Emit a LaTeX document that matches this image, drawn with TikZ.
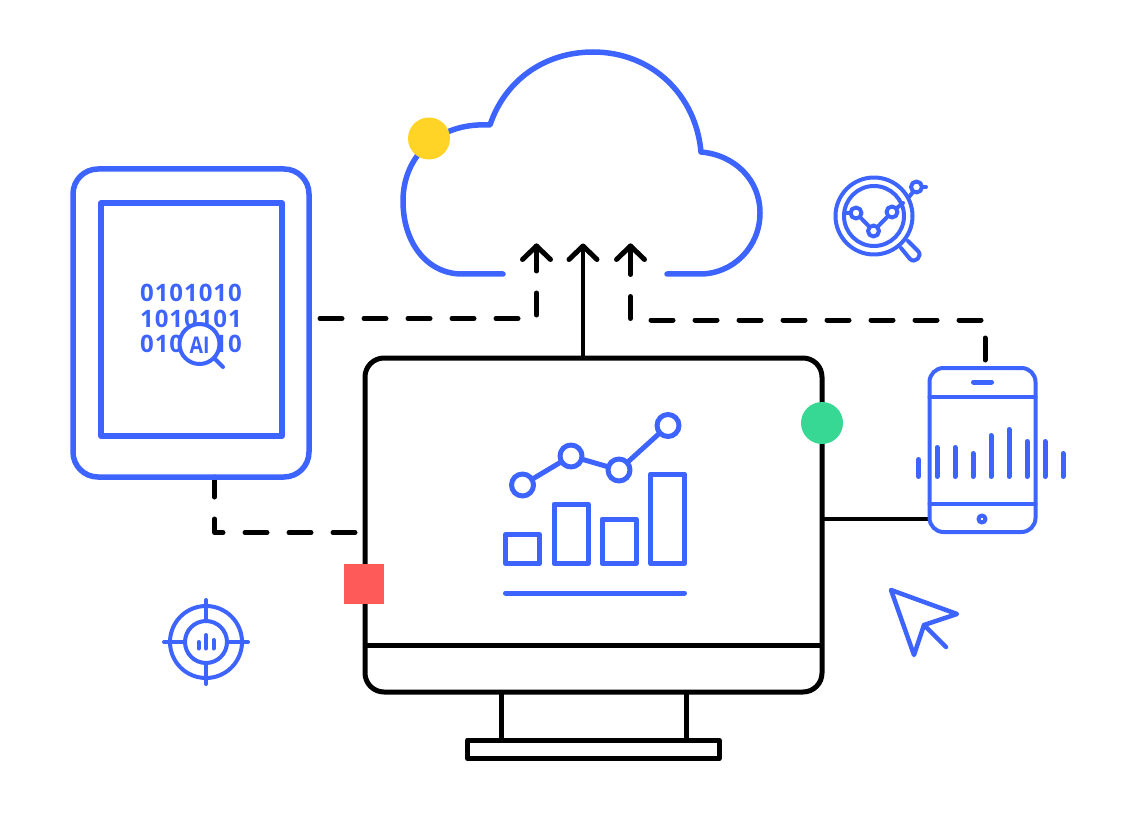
\documentclass[tikz,border=0pt]{standalone}
\usepackage{fontspec}
\setmainfont{Open Sans}
\newfontfamily\bitfont[LetterSpace=4]{Open Sans}
\newfontfamily\aifont[FakeStretch=0.85]{Open Sans}
\usetikzlibrary{calc}
\definecolor{iconblue}{HTML}{3D64FF}
\definecolor{dotyellow}{HTML}{FFD426}
\definecolor{dotgreen}{HTML}{36D894}
\definecolor{dotred}{HTML}{FF5A5A}
\tikzset{
  blue heavy/.style={draw=iconblue,line width=5.5pt,line cap=round,line join=round},
  blue thick/.style={draw=iconblue,line width=5pt,line cap=round,line join=round},
  blue mid/.style={draw=iconblue,line width=4pt,line cap=round,line join=round},
  black line/.style={draw=black,line width=5pt,line join=round},
  dash link/.style={draw=black,line width=5pt,line cap=round,line join=round,dash pattern=on 22pt off 22pt},
  chevron/.style={draw=black,line width=5pt,line cap=round,line join=round},
  bits/.style={text=iconblue,font=\bitfont\bfseries\fontsize{24}{24}\selectfont,inner sep=0pt}
}
\begin{document}
\begin{tikzpicture}[x=1pt,y=-1pt]
\useasboundingbox (0,0) rectangle (1140,826);
% named anchors
\coordinate (tabletR) at (320,318.5);
\coordinate (elbowA) at (536.5,318.5);
\coordinate (tipA) at (536.5,246);
\coordinate (tipB) at (583,246);
\coordinate (tipC) at (630.5,246);
\coordinate (elbowC) at (630.5,320);
\coordinate (elbowP) at (985,320);
\coordinate (phoneT) at (985,360);
\coordinate (monT) at (583,358);
\coordinate (tabletB) at (214.5,477);
\coordinate (elbowM) at (214.5,532.5);
\coordinate (monL) at (355,532.5);
\coordinate (monR) at (822,519);
\coordinate (phoneL) at (929,519);
% cloud
\draw[blue heavy] (503,274) -- (462,274)
  .. controls (428,274) and (403,244) .. (403,201)
  .. controls (403,156) and (438,122) .. (490,125)
  .. controls (505,80) and (545,52) .. (593,52)
  .. controls (652,52) and (696,95) .. (701,152)
  .. controls (735,155) and (760,180) .. (760,213)
  .. controls (760,247) and (733,274) .. (700,274)
  -- (667,274);
% connectors below the devices
\draw[dash link] (monL) -- (elbowM) -- (tabletB);
% tablet
\draw[blue heavy] (73,194) arc[start angle=180,end angle=270,radius=25] -- (284,169)
  arc[start angle=270,end angle=360,radius=25] -- (309,452)
  arc[start angle=0,end angle=90,radius=25] -- (98,477)
  arc[start angle=90,end angle=180,radius=25] -- cycle;
\draw[blue heavy] (101,203) rectangle (282,436);
\node[bits] (bitsA) at (191,293) {0101010};
\node[bits] (bitsB) at (191,319) {1010101};
\node[bits] (bitsC) at (191,344) {0101010};
\draw[blue mid,fill=white] (199.5,344) circle[radius=20];
\draw[blue mid] (214,358) -- (223,367);
\node[text=iconblue,font=\aifont\bfseries\fontsize{23}{23}\selectfont,inner sep=0pt] (ailabel) at (199.5,345) {AI};
% monitor
\draw[black line] (384,358) -- (803,358)
  arc[start angle=270,end angle=360,radius=19] -- (822,673)
  arc[start angle=0,end angle=90,radius=19] -- (384,692)
  arc[start angle=90,end angle=180,radius=19] -- (365,377)
  arc[start angle=180,end angle=270,radius=19] -- cycle;
\draw[black line] (365,645) -- (822,645);
\draw[black line] (501,692) -- (501,740);
\draw[black line] (686,692) -- (686,740);
\draw[black line] (467.5,740) rectangle (719,758.5);
% chart
\draw[blue thick] (505.5,534.5) rectangle (539.5,563.5);
\draw[blue thick] (554,504) rectangle (588,563.5);
\draw[blue thick] (602,519) rectangle (636,563.5);
\draw[blue thick] (650.5,474) rectangle (684.5,563.5);
\draw[blue thick] (505.5,593) -- (684.5,593);
\coordinate (p1) at (522.5,485);
\coordinate (p2) at (571,456);
\coordinate (p3) at (619,470);
\coordinate (p4) at (668,425.5);
\draw[blue thick] (p1) -- (p2) -- (p3) -- (p4);
\foreach \p in {p1,p2,p3,p4} \draw[blue thick,fill=white] (\p) circle[radius=11];
% connectors
\draw[dash link] (tabletR) -- (elbowA) -- (tipA);
\draw[chevron] (522.5,259.5) -- (tipA) -- (550.5,259.5);
\draw[chevron] (tipA) -- ++(0,14);
\draw[black line,line width=4pt] (monT) -- (tipB);
\draw[chevron] (569,259.5) -- (tipB) -- (597,259.5);
\draw[dash link] (phoneT) -- (elbowP) -- (elbowC) -- (tipC);
\draw[chevron] (616.5,259.5) -- (tipC) -- (644.5,259.5);
\draw[chevron] (tipC) -- ++(0,14);
\draw[black line,line width=4.5pt] (monR) -- (phoneL);
% phone
\draw[blue mid,fill=white] (929.5,382) arc[start angle=180,end angle=270,radius=14] -- (1021.5,368)
  arc[start angle=270,end angle=360,radius=14] -- (1035.5,518)
  arc[start angle=0,end angle=90,radius=14] -- (943.5,532)
  arc[start angle=90,end angle=180,radius=14] -- cycle;
\draw[blue mid] (929.5,397) -- (1035.5,397);
\draw[blue mid] (929.5,503.5) -- (1035.5,503.5);
\draw[blue thick] (973.5,382) -- (991.5,382);
\draw[blue mid] (982,519) circle[radius=3.5];
\foreach \x/\t in {918.5/459.5,937/447.5,955/447.5,973/453.5,991/435.5,1009/429.5,1027/441.5,1045/441.5,1063/453.5}
  \draw[blue thick] (\x,\t) -- (\x,476.5);
% search icon
\draw[blue mid] (874,216) circle[radius=38.5];
\draw[blue mid] (874,216) circle[radius=30];
\draw[blue mid] (845,213) -- (856,213) -- (873.5,231) -- (892,212) -- (903,203);
\foreach \x/\y in {856/213,873.5/231,892/212} \draw[blue mid,fill=white] (\x,\y) circle[radius=5.5];
\draw[blue mid] (909,197) -- (913,192);
\draw[blue mid,fill=white] (916.5,187) circle[radius=5.5];
\draw[blue mid] (922,187) -- (926,187);
\draw[blue mid] (901,248) -- (910,259) .. controls (915,264) and (923,256) .. (918,251) -- (908,241);
% target icon
\draw[blue mid] (206,642) circle[radius=36];
\draw[blue mid] (206,642) circle[radius=21];
\draw[blue mid] (206,600) -- (206,621);
\draw[blue mid] (206,663) -- (206,684);
\draw[blue mid] (164,642) -- (185,642);
\draw[blue mid] (227,642) -- (248,642);
\draw[blue thick,line width=4pt] (198.5,642) -- (198.5,648.5);
\draw[blue thick,line width=4pt] (206,635) -- (206,648.5);
\draw[blue thick,line width=4pt] (213.5,640) -- (213.5,648.5);
% cursor
\draw[blue thick,line width=4.5pt] (891,590) -- (957,614) -- (924,625) -- (914,655) -- cycle;
\draw[blue thick,line width=4.5pt] (924,625) -- (946,647);
% dots
\fill[dotyellow] (429,138.5) circle[radius=21];
\fill[dotgreen] (822,423) circle[radius=21];
\fill[dotred] (344,564) rectangle (383.5,603.5);
\end{tikzpicture}
\end{document}
